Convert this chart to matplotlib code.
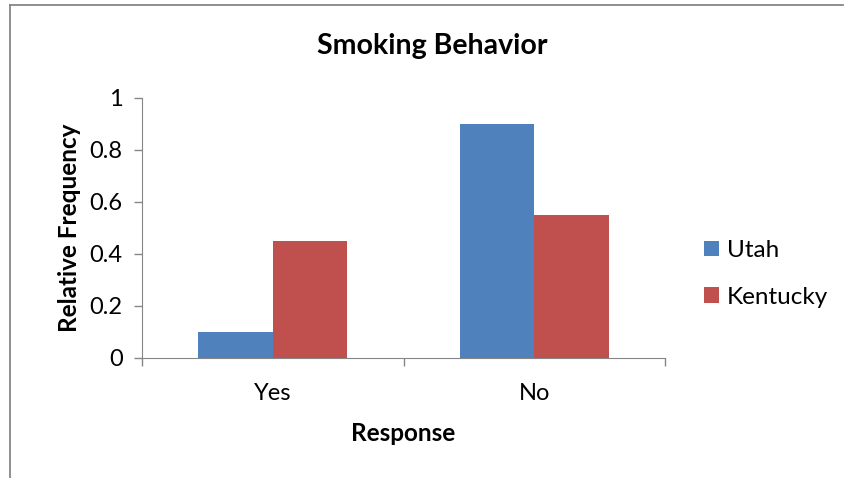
import matplotlib
matplotlib.use("Agg")
import matplotlib.pyplot as plt
from matplotlib.lines import Line2D
import numpy as np

categories = ["Yes", "No"]
utah = [0.1, 0.9]
kentucky = [0.45, 0.55]
y_ticks = [0, 0.2, 0.4, 0.6, 0.8, 1]
y_tick_labels = ["0", "0.2", "0.4", "0.6", "0.8", "1"]

plt.rcParams['font.family'] = ['Lato', 'DejaVu Sans']

fig = plt.figure(figsize=(8.44, 4.78), dpi=100)
ax = fig.add_axes([142 / 844, 1 - 358 / 478, 523 / 844, 260 / 478])

x = np.arange(len(categories))
w = 0.285
ax.bar(x - w / 2, utah, w, color='#4F81BD', label='Utah')
ax.bar(x + w / 2, kentucky, w, color='#C0504D', label='Kentucky')

ax.set_xlim(-0.5, 1.5)
ax.set_ylim(0, 1)
ax.set_yticks(y_ticks)
ax.set_yticklabels(y_tick_labels, fontsize=17)
ax.set_xticks([-0.5, 0.5, 1.5])
ax.set_xticklabels([])
ax.set_xticks(x, minor=True)
ax.set_xticklabels(categories, minor=True, fontsize=17)
ax.tick_params(axis='x', which='minor', length=0, pad=18)
ax.tick_params(axis='x', which='major', length=6, color='#868686', width=1)
ax.tick_params(axis='y', length=6, color='#868686', width=1, pad=8)

for side in ['top', 'right']:
    ax.spines[side].set_visible(False)
for side in ['left', 'bottom']:
    ax.spines[side].set_color('#868686')

ax.set_xlabel("Response", fontsize=17.5, fontweight='bold', labelpad=13)
ax.set_ylabel("Relative Frequency", fontsize=17.5, fontweight='bold', labelpad=6)
fig.text(432 / 844, 1 - 46 / 478, "Smoking Behavior", fontsize=20.5, fontweight='bold',
         ha='center', va='center')

ax.legend(loc='center left', bbox_to_anchor=(704 / 844, 1 - 274 / 478),
          bbox_transform=fig.transFigure,
          frameon=False, fontsize=17.5, handlelength=0.6, handleheight=0.6,
          handletextpad=0.35, labelspacing=1.05, borderaxespad=0, borderpad=0)

# chart area border (left and top edges)
fig.add_artist(Line2D([9.5 / 844, 9.5 / 844], [0, 1 - 5 / 478], color='#868686', lw=1.3))
fig.add_artist(Line2D([9.5 / 844, 843 / 844], [1 - 5 / 478, 1 - 5 / 478], color='#868686', lw=1.3))

fig.savefig("out.png", dpi=100)
